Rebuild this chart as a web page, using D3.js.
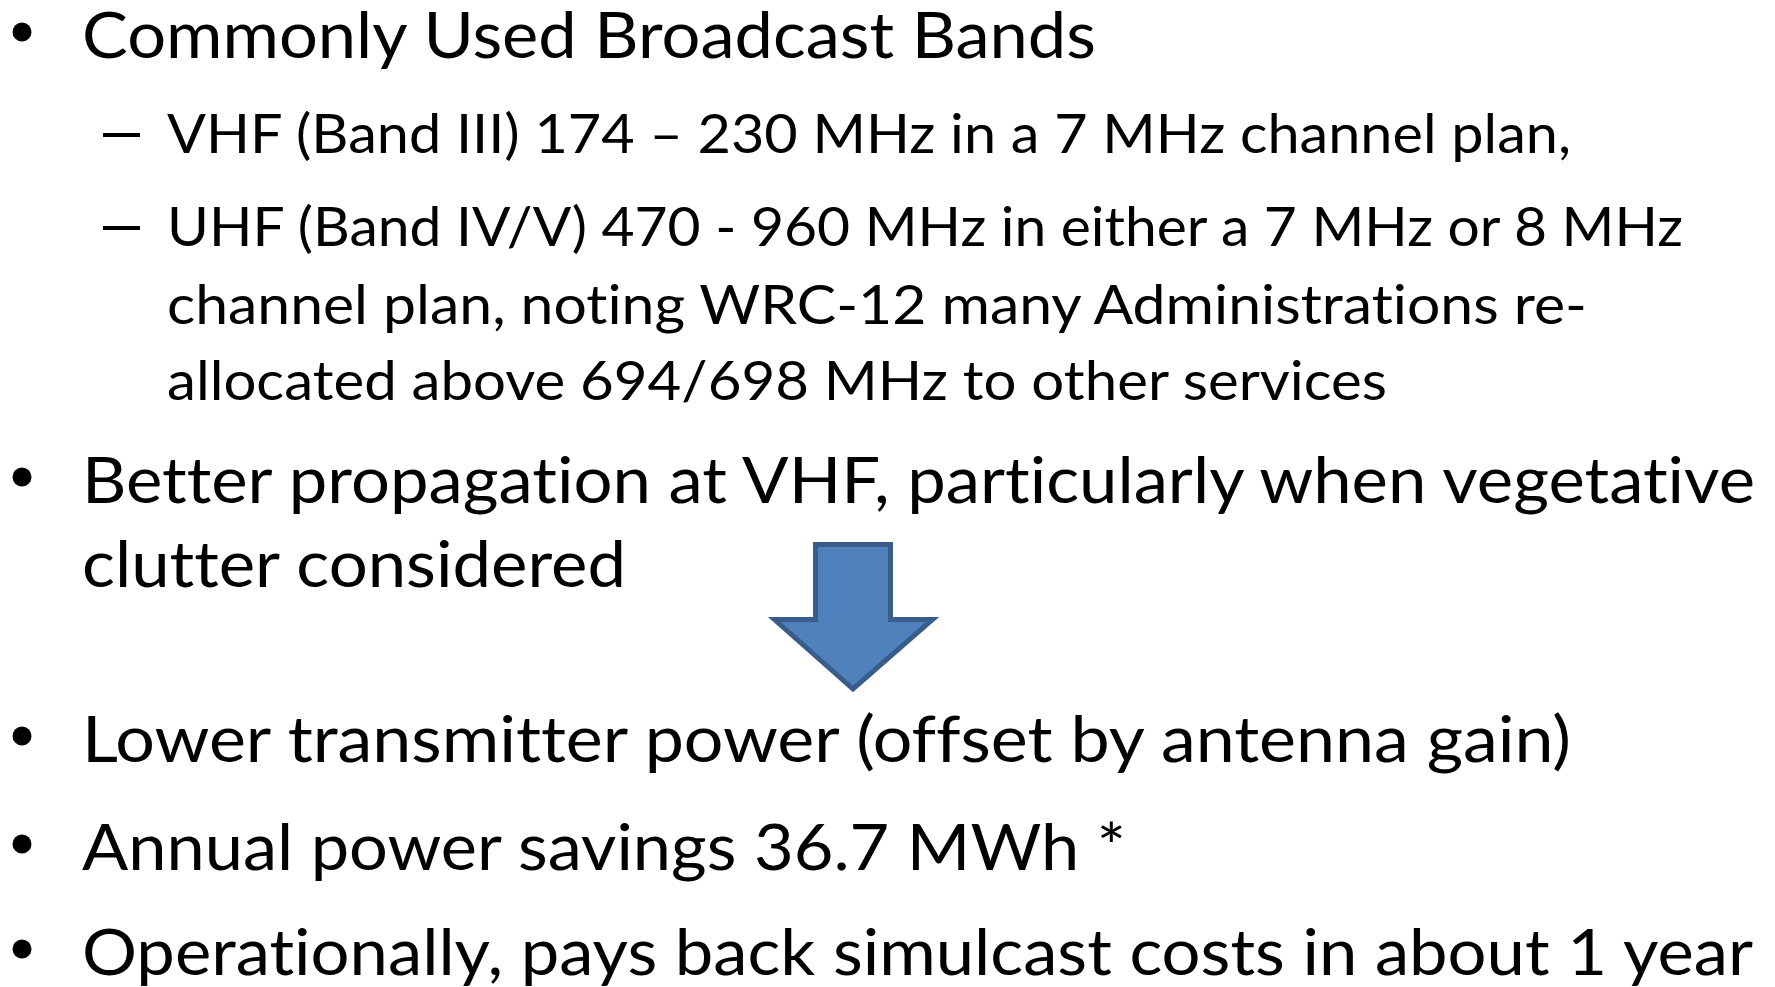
<!DOCTYPE html>
<html>
<head>
  <meta charset="utf-8">
  <script src="https://d3js.org/d3.v7.min.js"></script>
  <style>
    body { margin: 0; background: #fff; overflow: hidden; }
    .line { font-family: Lato, "Open Sans", sans-serif; fill: #000; font-variant-ligatures: none; }
  </style>
</head>
<body>
  <svg id="slide" width="1775" height="987"></svg>
  <script>
    // slide content: one entry per rendered line
    const lineTexts = [
      "Commonly Used Broadcast Bands",
      "VHF (Band III) 174 \u2013 230 MHz in a 7 MHz channel plan,",
      "UHF (Band IV/V) 470 - 960 MHz in either a 7 MHz or 8 MHz",
      "channel plan, noting WRC-12 many Administrations re-",
      "allocated above 694/698 MHz to other services",
      "Better propagation at VHF, particularly when vegetative",
      "clutter considered",
      "Lower transmitter power (offset by antenna gain)",
      "Annual power savings 36.7 MWh *",
      "Operationally, pays back simulcast costs in about 1 year"
    ];
    // 0 = bullet, 1 = dash sub item; marker only on first line of a paragraph
    const lineLevels = [0, 1, 1, 1, 1, 0, 0, 0, 0, 0];
    const lineMarkers = [true, true, true, false, false, true, false, true, true, true];

    // layout measured off the slide
    const baselines = [58, 153, 246, 324, 400, 503, 587, 762, 870, 975];
    const lineEnds = [1096, 1571, 1683, 1587, 1387, 1755, 626, 1571, 1126, 1753];
    const textX = [82, 167];
    const fontSize = [64, 54];

    const svg = d3.select("#slide");

    const rows = lineTexts.map((t, i) => ({
      text: t, level: lineLevels[i], marker: lineMarkers[i],
      y: baselines[i], end: lineEnds[i]
    }));

    svg.selectAll("text.line").data(rows)
      .join("text")
      .attr("class", "line")
      .attr("x", d => textX[d.level])
      .attr("y", d => d.y)
      .attr("font-size", d => fontSize[d.level])
      .attr("textLength", d => d.end - textX[d.level])
      .attr("lengthAdjust", "spacingAndGlyphs")
      .text(d => d.text);

    // round bullets
    svg.selectAll("circle.bullet").data(rows.filter(d => d.marker && d.level === 0))
      .join("circle")
      .attr("class", "bullet")
      .attr("cx", 22)
      .attr("cy", d => d.y - 26)
      .attr("r", 9.5)
      .attr("fill", "#000");

    // dashes for sub items
    svg.selectAll("rect.dash").data(rows.filter(d => d.marker && d.level === 1))
      .join("rect")
      .attr("class", "dash")
      .attr("x", 103)
      .attr("y", d => d.y - 20)
      .attr("width", 37)
      .attr("height", 4)
      .attr("fill", "#000");

    // block arrow pointing down
    const arrow = { left: 815.5, right: 890.5, top: 544.5, shoulder: 619.5,
      headL: 774.5, headR: 932.5, tip: 689 };
    const cx = (arrow.left + arrow.right) / 2;
    const pts = [
      [arrow.left, arrow.top], [arrow.right, arrow.top],
      [arrow.right, arrow.shoulder], [arrow.headR, arrow.shoulder],
      [cx, arrow.tip], [arrow.headL, arrow.shoulder],
      [arrow.left, arrow.shoulder]
    ];
    svg.append("path")
      .attr("d", d3.line()(pts) + "Z")
      .attr("fill", "#4f81bd")
      .attr("stroke", "#385d8a")
      .attr("stroke-width", 5)
      .attr("stroke-linejoin", "miter");
  </script>
</body>
</html>
